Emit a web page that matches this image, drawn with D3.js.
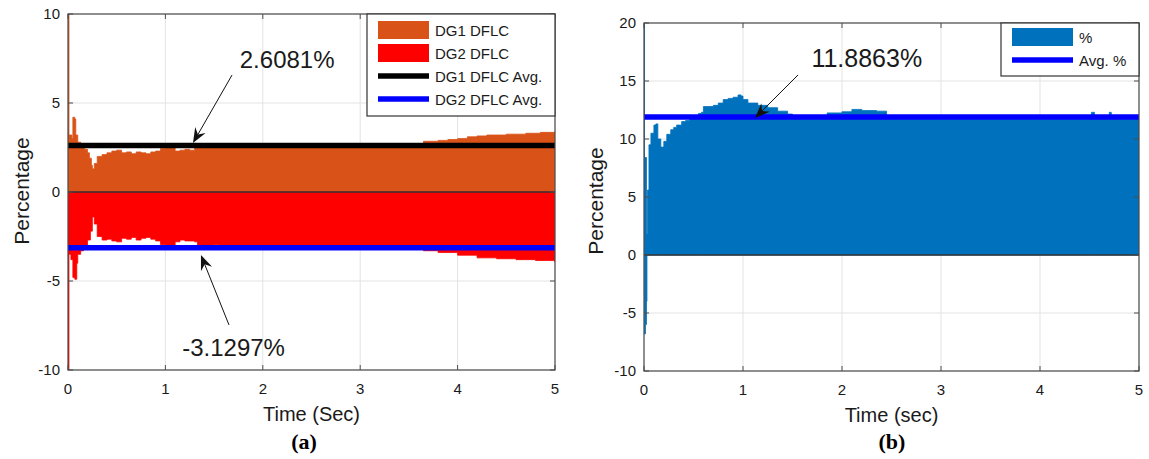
<!DOCTYPE html>
<html>
<head>
<meta charset="utf-8">
<script src="https://cdn.jsdelivr.net/npm/d3@7"></script>
<style>
  body { margin: 0; background: #fff; }
  svg { display: block; font-family: "Liberation Sans", Arial, sans-serif; }
</style>
</head>
<body>
<svg id="chart" width="1149" height="459"></svg>
<script>
// ---- data ----
// (a) envelope of DG1 / DG2 DFLC (%), time in sec
var tDG1 = [0, 0.01, 0.04, 0.05, 0.07, 0.08, 0.1, 0.13, 0.17, 0.2, 0.22, 0.24, 0.25, 0.27, 0.3, 0.35, 0.4, 0.45, 0.5, 0.55, 0.6, 0.65, 0.7, 0.75, 0.8, 0.85, 0.9, 0.95, 1.0, 1.1, 1.15, 1.2, 1.25, 1.3, 3.6, 3.65, 3.8, 3.9, 4.0, 4.1, 4.2, 4.3, 4.5, 4.7, 4.85, 5.0];
var vDG1 = [10, 3.2, 3.0, 4.2, 4.1, 3.2, 2.8, 2.7, 2.4, 2.2, 1.9, 1.5, 1.3, 1.6, 2.0, 2.1, 2.2, 2.3, 2.35, 2.2, 2.25, 2.15, 2.25, 2.2, 2.15, 2.25, 2.3, 2.45, 2.6, 2.3, 2.35, 2.4, 2.35, 2.6, 2.6, 2.85, 2.9, 2.95, 3.0, 3.1, 3.15, 3.2, 3.25, 3.3, 3.35, 3.4];
var tDG2 = [0, 0.01, 0.03, 0.05, 0.07, 0.09, 0.1, 0.13, 0.16, 0.2, 0.23, 0.25, 0.27, 0.3, 0.35, 0.4, 0.45, 0.5, 0.55, 0.6, 0.65, 0.7, 0.75, 0.8, 0.85, 0.9, 0.95, 1.0, 1.1, 1.15, 1.2, 1.3, 1.33, 1.5, 1.55, 3.6, 3.65, 3.8, 4.0, 4.2, 4.4, 4.6, 4.8, 5.0];
var vDG2 = [-10, -3.5, -3.8, -4.8, -4.9, -4.0, -3.5, -3.3, -3.0, -2.7, -2.2, -1.4, -1.8, -2.5, -2.7, -2.65, -2.75, -2.8, -2.6, -2.65, -2.55, -2.7, -2.6, -2.55, -2.65, -2.75, -2.95, -3.1, -2.8, -2.7, -2.75, -2.8, -3.1, -2.95, -3.1, -3.1, -3.3, -3.4, -3.55, -3.7, -3.75, -3.8, -3.85, -3.95];
var avgDG1 = 2.6081;
var avgDG2 = -3.1297;

// (b) envelope of % (upper and the short negative swing at start)
var tPct = [0, 0.005, 0.02, 0.025, 0.035, 0.05, 0.07, 0.1, 0.12, 0.14, 0.17, 0.2, 0.23, 0.27, 0.3, 0.33, 0.38, 0.42, 0.46, 0.5, 0.55, 0.58, 0.6, 0.7, 0.75, 0.8, 0.85, 0.9, 0.95, 0.98, 1.0, 1.05, 1.15, 1.25, 1.35, 1.45, 1.5, 1.8, 1.85, 2.0, 2.1, 2.2, 2.35, 2.45, 4.5, 4.52, 4.55, 4.7, 4.72, 5.0];
var vPct = [20, 8.4, 8.4, 1.8, 5.6, 9.5, 10.5, 11.2, 11.3, 10.0, 9.3, 9.8, 10.4, 10.8, 11.0, 11.2, 11.5, 11.6, 11.8, 12.0, 12.2, 12.3, 12.8, 12.9, 13.1, 13.4, 13.5, 13.6, 13.8, 13.7, 13.4, 13.1, 12.9, 12.7, 12.4, 12.15, 11.95, 11.95, 12.25, 12.35, 12.55, 12.45, 12.4, 11.95, 11.95, 12.3, 11.95, 12.3, 11.95, 11.95];
var tPctLow = [0, 0.005, 0.015, 0.025, 0.03];
var vPctLow = [0, -6.8, -6.0, -4.0, 0];
var avgPct = 11.8863;

var xTicks = [0, 1, 2, 3, 4, 5];
var yTicksA = [-10, -5, 0, 5, 10];
var yTicksB = [-10, -5, 0, 5, 10, 15, 20];

var svg = d3.select("#chart");

function zip(t, v) { return t.map(function (d, i) { return [d, v[i]]; }); }

function drawPanel(p) {
  var x = d3.scaleLinear().domain([0, 5]).range([p.left, p.right]);
  var y = d3.scaleLinear().domain(p.yDomain).range([p.bottom, p.top]);
  var g = svg.append("g");

  var clipId = "clip" + p.id;
  g.append("clipPath").attr("id", clipId).append("rect")
    .attr("x", p.left).attr("y", p.top)
    .attr("width", p.right - p.left).attr("height", p.bottom - p.top);

  // grid
  g.selectAll("gx").data(xTicks).enter().append("line")
    .attr("x1", d => x(d)).attr("x2", d => x(d))
    .attr("y1", p.top).attr("y2", p.bottom)
    .attr("stroke", "#e3e3e3").attr("stroke-width", 1);
  g.selectAll("gy").data(p.yTicks).enter().append("line")
    .attr("x1", p.left).attr("x2", p.right)
    .attr("y1", d => y(d)).attr("y2", d => y(d))
    .attr("stroke", "#e3e3e3").attr("stroke-width", 1);

  // filled envelopes
  var area = d3.area()
    .curve(d3.curveStepAfter)
    .x(d => x(d[0]))
    .y0(y(0))
    .y1(d => y(d[1]));
  var plot = g.append("g").attr("clip-path", "url(#" + clipId + ")");
  p.series.forEach(function (s) {
    plot.append("path")
      .datum(zip(s.t, s.v))
      .attr("d", area)
      .attr("fill", s.color)
      .attr("stroke", s.color)
      .attr("stroke-width", 0.8);
  });

  // zero line
  plot.append("line")
    .attr("x1", p.left).attr("x2", p.right)
    .attr("y1", y(0)).attr("y2", y(0))
    .attr("stroke", "#333").attr("stroke-width", 1.3);

  // average lines
  p.avgs.forEach(function (a) {
    plot.append("line")
      .attr("x1", p.left).attr("x2", p.right)
      .attr("y1", y(a.value)).attr("y2", y(a.value))
      .attr("stroke", a.color).attr("stroke-width", 5.5);
  });

  // box and inward ticks
  g.append("rect")
    .attr("x", p.left).attr("y", p.top)
    .attr("width", p.right - p.left).attr("height", p.bottom - p.top)
    .attr("fill", "none").attr("stroke", "#4d4d4d").attr("stroke-width", 1.2);
  xTicks.forEach(function (d) {
    g.append("line").attr("x1", x(d)).attr("x2", x(d)).attr("y1", p.bottom).attr("y2", p.bottom - 5).attr("stroke", "#4d4d4d");
    g.append("line").attr("x1", x(d)).attr("x2", x(d)).attr("y1", p.top).attr("y2", p.top + 5).attr("stroke", "#4d4d4d");
  });
  p.yTicks.forEach(function (d) {
    g.append("line").attr("x1", p.left).attr("x2", p.left + 5).attr("y1", y(d)).attr("y2", y(d)).attr("stroke", "#4d4d4d");
    g.append("line").attr("x1", p.right).attr("x2", p.right - 5).attr("y1", y(d)).attr("y2", y(d)).attr("stroke", "#4d4d4d");
  });

  // tick labels
  g.selectAll("xl").data(xTicks).enter().append("text")
    .attr("x", d => x(d)).attr("y", p.bottom + 24)
    .attr("text-anchor", "middle").attr("font-size", 15).attr("fill", "#1a1a1a")
    .text(d => d);
  g.selectAll("yl").data(p.yTicks).enter().append("text")
    .attr("x", p.left - 8).attr("y", d => y(d) + 5)
    .attr("text-anchor", "end").attr("font-size", 15).attr("fill", "#1a1a1a")
    .text(d => d);

  // axis labels
  g.append("text")
    .attr("x", (p.left + p.right) / 2).attr("y", p.xLabelY)
    .attr("text-anchor", "middle").attr("font-size", 20).attr("fill", "#1a1a1a")
    .text(p.xLabel);
  g.append("text")
    .attr("transform", "translate(" + p.yLabelX + "," + p.yLabelY + ") rotate(-90)")
    .attr("text-anchor", "middle").attr("font-size", 21).attr("fill", "#1a1a1a")
    .text("Percentage");
  g.append("text")
    .attr("x", p.captionX).attr("y", 449)
    .attr("text-anchor", "middle")
    .attr("font-family", "'Liberation Serif', 'Times New Roman', serif")
    .attr("font-weight", "bold").attr("font-size", 22)
    .text(p.caption);

  // legend
  var L = p.legend;
  var lg = g.append("g");
  lg.append("rect")
    .attr("x", L.x).attr("y", L.y).attr("width", L.w).attr("height", L.h)
    .attr("fill", "#fff").attr("stroke", "#333").attr("stroke-width", 1.2);
  L.items.forEach(function (it, i) {
    var cy = L.y + L.first + i * L.step;
    if (it.type === "patch") {
      lg.append("rect").attr("x", L.x + L.sx).attr("y", cy - 9)
        .attr("width", L.sw).attr("height", 18).attr("fill", it.color);
    } else {
      lg.append("line").attr("x1", L.x + L.sx).attr("x2", L.x + L.sx + L.sw)
        .attr("y1", cy).attr("y2", cy).attr("stroke", it.color).attr("stroke-width", 5.5);
    }
    lg.append("text").attr("x", L.x + L.sx + L.sw + 6).attr("y", cy + 5.5)
      .attr("font-size", 15).attr("fill", "#1a1a1a").text(it.label);
  });

  // annotations
  p.notes.forEach(function (n) {
    var x1 = x(n.from[0]), y1 = y(n.from[1]), x2 = x(n.to[0]), y2 = y(n.to[1]);
    var ang = Math.atan2(y2 - y1, x2 - x1);
    var len = 15, half = 6, notch = 10;
    var bx = x2 - len * Math.cos(ang), by = y2 - len * Math.sin(ang);
    g.append("line").attr("x1", x1).attr("y1", y1)
      .attr("x2", x2 - notch * Math.cos(ang)).attr("y2", y2 - notch * Math.sin(ang))
      .attr("stroke", "#111").attr("stroke-width", 1);
    var px = -Math.sin(ang), py = Math.cos(ang);
    var pts = [
      [x2, y2],
      [bx + half * px, by + half * py],
      [x2 - notch * Math.cos(ang), y2 - notch * Math.sin(ang)],
      [bx - half * px, by - half * py]
    ];
    g.append("path").attr("d", "M" + pts.join("L") + "Z").attr("fill", "#111");
    g.append("text").attr("x", x(n.text[0])).attr("y", y(n.text[1]))
      .attr("text-anchor", "middle").attr("font-size", n.size).attr("fill", "#1a1a1a")
      .text(n.label);
  });
}

drawPanel({
  id: "a", left: 68, right: 555, top: 14, bottom: 370,
  yDomain: [-10, 10], yTicks: yTicksA,
  series: [
    { t: tDG1, v: vDG1, color: "#D95319" },
    { t: tDG2, v: vDG2, color: "#FF0000" }
  ],
  avgs: [{ value: avgDG1, color: "#000" }, { value: avgDG2, color: "#0000FF" }],
  xLabel: "Time (Sec)", xLabelY: 421, yLabelX: 29, yLabelY: 191,
  caption: "(a)", captionX: 304,
  legend: {
    x: 367, y: 14, w: 188, h: 102, first: 16, step: 23, sx: 11, sw: 51,
    items: [
      { type: "patch", color: "#D95319", label: "DG1 DFLC" },
      { type: "patch", color: "#FF0000", label: "DG2 DFLC" },
      { type: "line", color: "#000", label: "DG1 DFLC Avg." },
      { type: "line", color: "#0000FF", label: "DG2 DFLC Avg." }
    ]
  },
  notes: [
    { from: [1.684, 6.57], to: [1.283, 2.75], text: [2.25, 6.95], label: "2.6081%", size: 24 },
    { from: [1.653, -7.47], to: [1.365, -3.54], text: [1.7, -9.2], label: "-3.1297%", size: 24 }
  ]
});

drawPanel({
  id: "b", left: 644, right: 1139, top: 23, bottom: 371,
  yDomain: [-10, 20], yTicks: yTicksB,
  series: [
    { t: tPct, v: vPct, color: "#0072BD" },
    { t: tPctLow, v: vPctLow, color: "#0072BD" }
  ],
  avgs: [{ value: avgPct, color: "#0000FF" }],
  xLabel: "Time (sec)", xLabelY: 422, yLabelX: 603, yLabelY: 201,
  caption: "(b)", captionX: 892,
  legend: {
    x: 1001, y: 23, w: 138, h: 53, first: 14, step: 23, sx: 11, sw: 61,
    items: [
      { type: "patch", color: "#0072BD", label: "%" },
      { type: "line", color: "#0000FF", label: "Avg. %" }
    ]
  },
  notes: [
    { from: [1.556, 15.52], to: [1.121, 11.81], text: [2.25, 16.2], label: "11.8863%", size: 25 }
  ]
});
</script>
</body>
</html>
